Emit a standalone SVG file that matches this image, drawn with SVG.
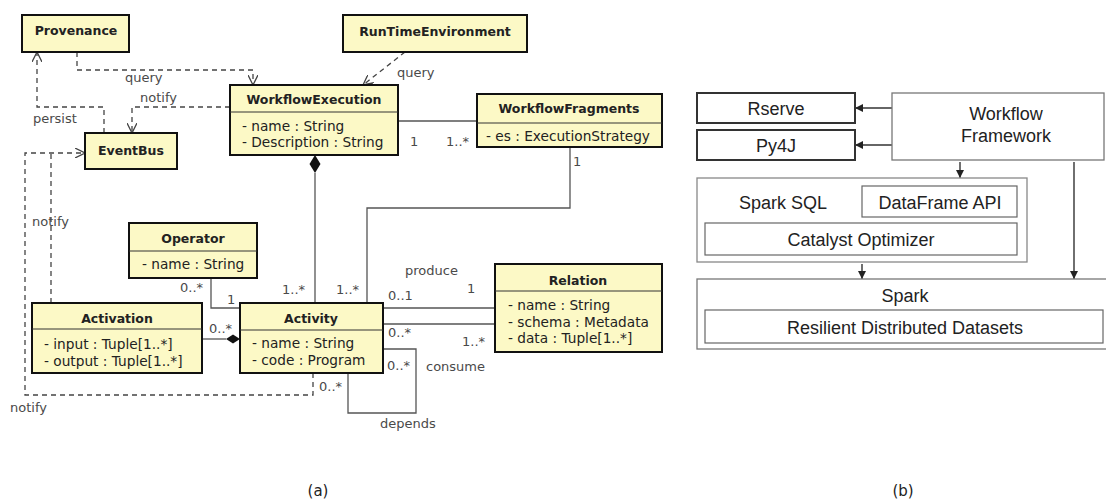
<svg xmlns="http://www.w3.org/2000/svg" width="1106" height="504" viewBox="0 0 1106 504">
<style>
.uml rect{fill:#fcf9c6;stroke:#111;stroke-width:2}
.uml line{stroke:#333;stroke-width:1}
.t{font-family:"DejaVu Sans",sans-serif;font-size:12.5px;font-weight:bold;fill:#222;text-anchor:middle}
.a{font-family:"DejaVu Sans",sans-serif;font-size:13.7px;fill:#222}
.l{font-family:"DejaVu Sans",sans-serif;font-size:13px;fill:#4a4a4a}
.c{fill:none;stroke:#555;stroke-width:1.3}
.d{fill:none;stroke:#444;stroke-width:1.3;stroke-dasharray:5 4}
.b rect{fill:#fff}
.bt{font-family:"Liberation Sans",Arial,sans-serif;font-size:18px;fill:#222;text-anchor:middle}
.ar{fill:none;stroke:#333;stroke-width:1.4}
.cap{font-family:"DejaVu Sans",sans-serif;font-size:15px;fill:#222;text-anchor:middle}
</style>
<defs>
<marker id="open" viewBox="0 0 10 10" refX="10" refY="5" markerWidth="10" markerHeight="10" markerUnits="userSpaceOnUse" orient="auto">
<path d="M0,0 L10,5 L0,10" fill="none" stroke="#444" stroke-width="1.3"/>
</marker>
<marker id="fill" viewBox="0 0 10 10" refX="10" refY="5" markerWidth="8" markerHeight="8" markerUnits="userSpaceOnUse" orient="auto">
<path d="M0,0 L10,5 L0,10 Z" fill="#222"/>
</marker>
</defs>
<rect width="1106" height="504" fill="#fff"/>

<g id="connectors">
<path class="d" d="M77,52 V70 H253 V85" marker-end="url(#open)"/>
<path class="d" d="M405,52 L363,85" marker-end="url(#open)"/>
<path class="d" d="M230,107 H132 V133" marker-end="url(#open)"/>
<path class="d" d="M104,133 V107 H37 V52" marker-end="url(#open)"/>
<path class="d" d="M313,373 V395 H25 V153 H85" marker-end="url(#open)"/>
<path class="d" d="M51,303 V153"/>
<path class="c" d="M398,121 H477"/>
<path class="c" d="M315,173 V303"/>
<polygon points="315,155 320.5,164 315,173 309.5,164" fill="#111"/>
<path class="c" d="M570,147 V208 H367 V303"/>
<path class="c" d="M211,278 V308 H240"/>
<path class="c" d="M202,339 H226"/>
<polygon points="240,339 233,334.5 226,339 233,343.5" fill="#111"/>
<path class="c" d="M383,308 H495"/>
<path class="c" d="M383,324 H495"/>
<path class="c" d="M383,349 H416 V413 H348 V373"/>
<text class="l" x="125" y="82">query</text>
<text class="l" x="140" y="102">notify</text>
<text class="l" x="33" y="123">persist</text>
<text class="l" x="397" y="77">query</text>
<text class="l" x="410" y="146">1</text>
<text class="l" x="446" y="146">1..*</text>
<text class="l" x="573" y="166">1</text>
<text class="l" x="32" y="226">notify</text>
<text class="l" x="180" y="292">0..*</text>
<text class="l" x="227" y="304">1</text>
<text class="l" x="209" y="333">0..*</text>
<text class="l" x="282" y="294">1..*</text>
<text class="l" x="336" y="294">1..*</text>
<text class="l" x="405" y="275">produce</text>
<text class="l" x="388" y="300">0..1</text>
<text class="l" x="467" y="293">1</text>
<text class="l" x="388" y="337">0..*</text>
<text class="l" x="462" y="346">1..*</text>
<text class="l" x="387" y="370">0..*</text>
<text class="l" x="426" y="371">consume</text>
<text class="l" x="319" y="391">0..*</text>
<text class="l" x="380" y="428">depends</text>
<text class="l" x="10" y="412">notify</text>
</g>

<g id="Provenance" class="uml">
<rect x="22" y="15" width="107" height="37"/>
<text class="t" x="76" y="35">Provenance</text>
</g>
<g id="RunTimeEnvironment" class="uml">
<rect x="343" y="15" width="184" height="37"/>
<text class="t" x="435" y="36">RunTimeEnvironment</text>
</g>
<g id="EventBus" class="uml">
<rect x="85" y="133" width="92" height="36"/>
<text class="t" x="131" y="155">EventBus</text>
</g>
<g id="WorkflowExecution" class="uml">
<rect x="230" y="85" width="168" height="70"/>
<line x1="230" y1="112" x2="398" y2="112"/>
<text class="t" x="314" y="104">WorkflowExecution</text>
<text class="a" x="242" y="131">- name : String</text>
<text class="a" x="242" y="147">- Description : String</text>
</g>
<g id="WorkflowFragments" class="uml">
<rect x="477" y="94" width="185" height="53"/>
<line x1="477" y1="123" x2="662" y2="123"/>
<text class="t" x="569" y="113">WorkflowFragments</text>
<text class="a" x="486" y="141">- es : ExecutionStrategy</text>
</g>
<g id="Operator" class="uml">
<rect x="129" y="223" width="128" height="55"/>
<line x1="129" y1="251" x2="257" y2="251"/>
<text class="t" x="193" y="243">Operator</text>
<text class="a" x="142" y="269">- name : String</text>
</g>
<g id="Activation" class="uml">
<rect x="32" y="303" width="170" height="70"/>
<line x1="32" y1="329" x2="202" y2="329"/>
<text class="t" x="117" y="323">Activation</text>
<text class="a" x="44" y="349">- input : Tuple[1..*]</text>
<text class="a" x="44" y="366">- output : Tuple[1..*]</text>
</g>
<g id="Activity" class="uml">
<rect x="240" y="303" width="143" height="70"/>
<line x1="240" y1="330" x2="383" y2="330"/>
<text class="t" x="311" y="323">Activity</text>
<text class="a" x="252" y="348">- name : String</text>
<text class="a" x="252" y="365">- code : Program</text>
</g>
<g id="Relation" class="uml">
<rect x="495" y="264" width="167" height="88"/>
<line x1="495" y1="291" x2="662" y2="291"/>
<text class="t" x="578" y="285">Relation</text>
<text class="a" x="508" y="310">- name : String</text>
<text class="a" x="508" y="327">- schema : Metadata</text>
<text class="a" x="508" y="343">- data : Tuple[1..*]</text>
</g>

<g id="b-connectors">
<path class="ar" d="M892,108 H855" marker-end="url(#fill)"/>
<path class="ar" d="M892,145 H855" marker-end="url(#fill)"/>
<path class="ar" d="M960,160 V178" marker-end="url(#fill)"/>
<path class="ar" d="M1074,160 V279" marker-end="url(#fill)"/>
<path class="ar" d="M862,262 V279" marker-end="url(#fill)"/>
</g>
<g id="Rserve" class="b">
<rect x="697" y="93" width="158" height="30" stroke="#333" stroke-width="2"/>
<text class="bt" x="776" y="115">Rserve</text>
</g>
<g id="Py4J" class="b">
<rect x="697" y="130" width="158" height="30" stroke="#333" stroke-width="2"/>
<text class="bt" x="776" y="152">Py4J</text>
</g>
<g id="WorkflowFramework" class="b">
<rect x="894" y="95" width="212" height="67" fill="#ccc" stroke="none"/>
<rect x="892" y="93" width="212" height="67" stroke="#777" stroke-width="1.3"/>
<text class="bt" x="1006" y="120">Workflow</text>
<text class="bt" x="1006" y="142">Framework</text>
</g>
<g id="SparkSQL" class="b">
<rect x="699" y="180" width="330" height="84" fill="#ccc" stroke="none"/>
<rect x="697" y="178" width="330" height="84" stroke="#888" stroke-width="1.3"/>
<text class="bt" x="783" y="209">Spark SQL</text>
<rect x="862" y="186" width="155" height="31" stroke="#666" stroke-width="1.2"/>
<text class="bt" x="940" y="209">DataFrame API</text>
<rect x="705" y="223" width="312" height="32" stroke="#666" stroke-width="1.2"/>
<text class="bt" x="861" y="246">Catalyst Optimizer</text>
</g>
<g id="Spark" class="b">
<rect x="699" y="281" width="409" height="70" fill="#ccc" stroke="none"/>
<rect x="697" y="279" width="410" height="70" stroke="#777" stroke-width="1.3"/>
<text class="bt" x="905" y="302">Spark</text>
<rect x="705" y="310" width="398" height="33" stroke="#666" stroke-width="1.2"/>
<text class="bt" x="905" y="334">Resilient Distributed Datasets</text>
</g>
<text class="cap" x="318" y="496">(a)</text>
<text class="cap" x="903" y="496">(b)</text>
</svg>
